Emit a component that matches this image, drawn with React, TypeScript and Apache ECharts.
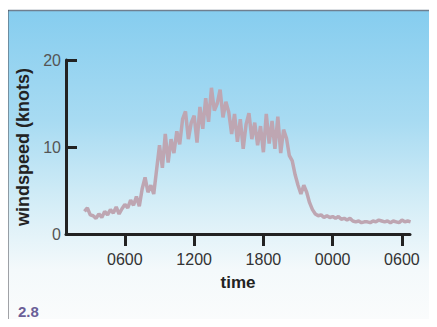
import React, { useEffect, useRef } from "react";
import * as echarts from "echarts";

// time in hours from midnight of day 1 (30 = 0600 next day)
const hours = [
  2.5, 2.75, 3.0, 3.25, 3.5, 3.75, 4.0, 4.25, 4.5, 4.75, 5.0, 5.25, 5.5, 5.75,
  6.0, 6.25, 6.5, 6.75, 7.0, 7.25, 7.5, 7.75, 8.0, 8.25, 8.5, 8.75, 9.0, 9.25,
  9.5, 9.75, 10.0, 10.25, 10.5, 10.75, 11.0, 11.25, 11.5, 11.75, 12.0, 12.25,
  12.5, 12.75, 13.0, 13.25, 13.5, 13.75, 14.0, 14.25, 14.5, 14.75, 15.0, 15.25,
  15.5, 15.75, 16.0, 16.25, 16.5, 16.75, 17.0, 17.25, 17.5, 17.75, 18.0, 18.25,
  18.5, 18.75, 19.0, 19.25, 19.5, 19.75, 20.0, 20.25, 20.5, 20.75, 21.0, 21.25,
  21.5, 21.75, 22.0, 22.25, 22.5, 22.75, 23.0, 23.25, 23.5, 23.75, 24.0, 24.25,
  24.5, 24.75, 25.0, 25.25, 25.5, 25.75, 26.0, 26.25, 26.5, 26.75, 27.0, 27.25,
  27.5, 27.75, 28.0, 28.25, 28.5, 28.75, 29.0, 29.25, 29.5, 29.75, 30.0, 30.25,
  30.5, 30.75,
];

const windspeed = [
  2.6, 3.0, 2.2, 2.1, 1.8, 2.3, 1.9, 2.6, 2.2, 2.8, 2.4, 3.1, 2.3, 2.9,
  3.4, 3.0, 3.9, 3.3, 4.3, 3.2, 5.2, 6.5, 4.8, 5.6, 4.6, 7.4, 10.2, 7.6,
  11.5, 8.2, 10.9, 9.3, 11.8, 10.3, 13.2, 14.1, 10.9, 12.8, 13.6, 10.5,
  14.6, 12.1, 15.6, 12.9, 16.8, 14.2, 15.0, 16.6, 13.4, 15.2, 14.0, 11.5,
  13.8, 10.6, 13.2, 9.8, 12.6, 13.9, 10.9, 12.8, 10.2, 12.4, 9.4, 13.8,
  10.4, 13.0, 9.8, 13.5, 9.3, 12.0, 11.0, 9.0, 8.4, 6.8, 5.6, 4.6,
  5.6, 4.8, 3.6, 2.8, 2.3, 2.1, 2.2, 1.9, 2.1, 1.9, 2.0, 1.8,
  2.0, 1.7, 1.8, 1.6, 1.8, 1.5, 1.4, 1.5, 1.3, 1.4, 1.4, 1.3,
  1.5, 1.4, 1.6, 1.5, 1.4, 1.5, 1.3, 1.5, 1.4, 1.3, 1.6, 1.4,
  1.5, 1.4,
];

const xTickValues = [6, 12, 18, 24, 30];
const xTickLabels = ["0600", "1200", "1800", "0000", "0600"];
const yTicks = [0, 10, 20];

export default function App() {
  const ref = useRef<HTMLDivElement>(null);

  useEffect(() => {
    if (!ref.current) return;
    const chart = echarts.init(ref.current, null, { renderer: "svg" });
    const data = hours.map((h, i) => [h, windspeed[i]]);
    chart.setOption({
      animation: false,
      backgroundColor: "#ffffff",
      graphic: [
        {
          type: "rect",
          z: -10,
          silent: true,
          shape: { x: 8, y: 11, width: 429, height: 316 },
          style: {
            fill: new echarts.graphic.LinearGradient(0, 0, 0, 1, [
              { offset: 0, color: "#86cdef" },
              { offset: 0.35, color: "#a8dbf2" },
              { offset: 0.62, color: "#d6eef7" },
              { offset: 0.82, color: "#f4f9fb" },
              { offset: 1, color: "#fbfcfc" },
            ]),
          },
        },
        {
          type: "line",
          silent: true,
          shape: { x1: 7, y1: 10.5, x2: 437, y2: 10.5 },
          style: { stroke: "#6f7f90", lineWidth: 1.5 },
        },
        {
          type: "line",
          silent: true,
          shape: { x1: 7.5, y1: 10, x2: 7.5, y2: 327 },
          style: { stroke: "#4a4a52", lineWidth: 2 },
        },
        {
          type: "text",
          left: 18,
          top: 304,
          style: {
            text: "2.8",
            font: "bold 15px 'Liberation Sans', Arial, sans-serif",
            fill: "#6b5f98",
          },
        },
      ],
      grid: { left: 66, right: 27, top: 60, bottom: 93, containLabel: false },
      xAxis: {
        type: "value",
        min: 0.9,
        max: 30.7,
        name: "time",
        nameLocation: "middle",
        nameGap: 40,
        nameTextStyle: {
          fontFamily: "'Liberation Sans', Arial, sans-serif",
          fontWeight: "bold",
          fontSize: 17,
          color: "#222",
        },
        axisLine: { show: true, lineStyle: { color: "#222", width: 3 } },
        axisTick: {
          show: true,
          inside: false,
          length: 12,
          customValues: xTickValues,
          lineStyle: { color: "#222", width: 3 },
        },
        axisLabel: {
          customValues: xTickValues,
          margin: 17,
          fontFamily: "'Liberation Sans', Arial, sans-serif",
          fontSize: 16,
          color: "#333",
          formatter: (v: number) => {
            const i = xTickValues.indexOf(v);
            return i >= 0 ? xTickLabels[i] : "";
          },
        },
        splitLine: { show: false },
      },
      yAxis: {
        type: "value",
        min: 0,
        max: 20,
        interval: 10,
        name: "windspeed (knots)",
        nameLocation: "middle",
        nameGap: 30,
        nameTextStyle: {
          fontFamily: "'Liberation Sans', Arial, sans-serif",
          fontWeight: "bold",
          fontSize: 18,
          color: "#222",
        },
        axisLine: { show: true, lineStyle: { color: "#222", width: 3 } },
        axisTick: {
          show: true,
          inside: true,
          length: 11,
          customValues: [10, 20],
          lineStyle: { color: "#222", width: 3 },
        },
        axisLabel: {
          customValues: yTicks,
          margin: 5,
          fontFamily: "'Liberation Sans', Arial, sans-serif",
          fontSize: 16,
          color: "#555",
        },
        splitLine: { show: false },
      },
      series: [
        {
          type: "line",
          data,
          showSymbol: false,
          symbol: "none",
          lineStyle: { color: "#bea6b2", width: 3.5 },
          z: 3,
        },
      ],
    });
    return () => chart.dispose();
  }, []);

  return <div ref={ref} style={{ width: 437, height: 327, margin: -8 }} />;
}
